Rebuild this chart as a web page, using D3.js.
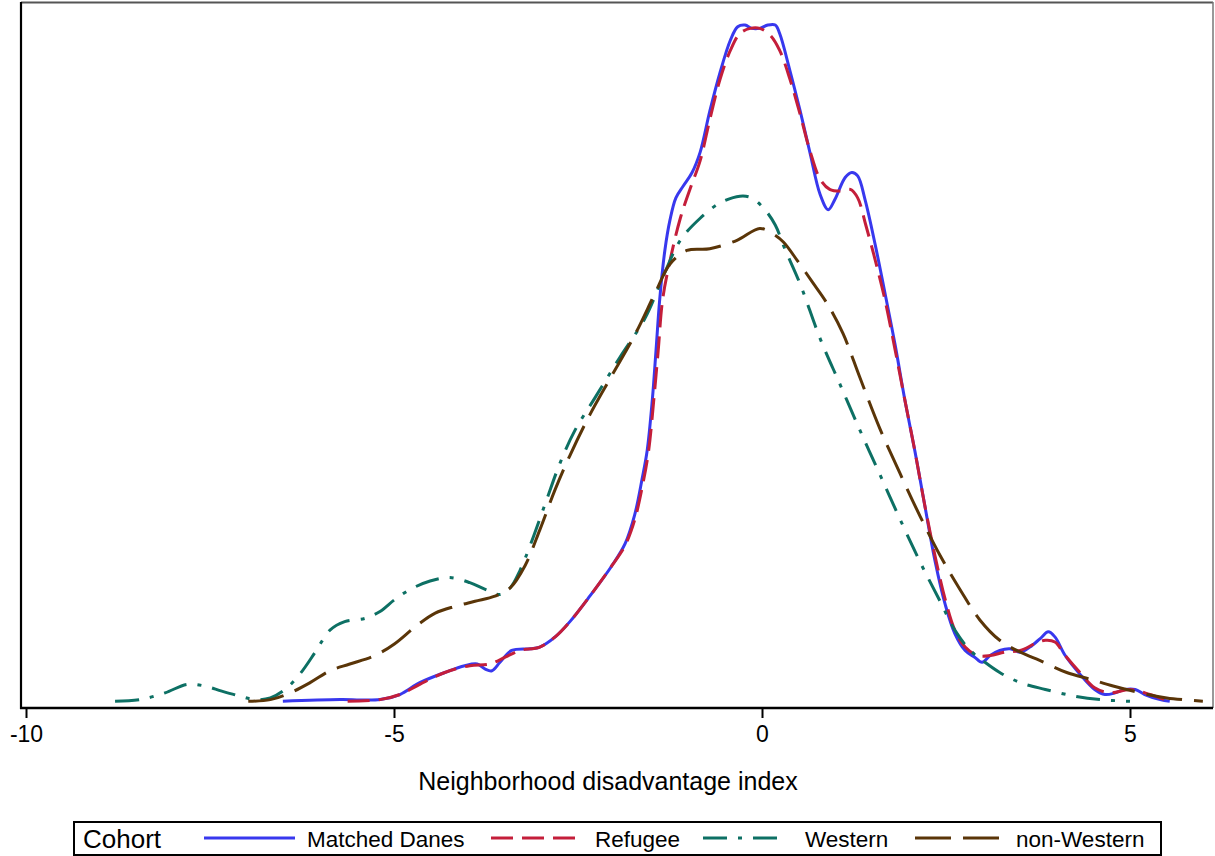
<!DOCTYPE html>
<html><head><meta charset="utf-8">
<script src="https://cdn.jsdelivr.net/npm/d3@7"></script>
<style>body{margin:0;background:#fff}svg{display:block;font-family:Arial,"Liberation Sans",sans-serif}</style>
</head><body><svg id="c" width="1215" height="856"></svg>
<script>
// Kernel density estimates: [index value, density]
const matchedDanes = [[-6.51,0.001],[-5.73,0.002],[-5.19,0.002],[-4.92,0.005],[-4.65,0.012],[-4.31,0.018],[-4.04,0.022],[-3.87,0.023],[-3.76,0.020],[-3.67,0.019],[-3.56,0.024],[-3.40,0.031],[-3.15,0.032],[-3.02,0.033],[-2.81,0.039],[-2.61,0.048],[-2.34,0.063],[-2.04,0.081],[-1.86,0.094],[-1.73,0.111],[-1.63,0.132],[-1.56,0.149],[-1.49,0.179],[-1.44,0.208],[-1.39,0.238],[-1.32,0.267],[-1.25,0.285],[-1.17,0.298],[-1.07,0.305],[-0.95,0.313],[-0.84,0.325],[-0.71,0.349],[-0.57,0.372],[-0.43,0.391],[-0.33,0.399],[-0.23,0.400],[-0.14,0.398],[-0.03,0.398],[0.08,0.400],[0.18,0.400],[0.24,0.395],[0.38,0.373],[0.52,0.349],[0.65,0.325],[0.79,0.300],[0.90,0.291],[0.99,0.297],[1.13,0.310],[1.22,0.313],[1.30,0.311],[1.40,0.297],[1.54,0.270],[1.67,0.242],[1.81,0.211],[1.94,0.179],[2.08,0.148],[2.21,0.117],[2.35,0.084],[2.49,0.058],[2.62,0.041],[2.76,0.031],[2.89,0.027],[2.99,0.024],[3.10,0.028],[3.23,0.031],[3.37,0.032],[3.51,0.030],[3.64,0.033],[3.78,0.038],[3.89,0.042],[3.98,0.039],[4.12,0.028],[4.32,0.017],[4.52,0.008],[4.66,0.005],[4.80,0.006],[4.93,0.008],[5.07,0.008],[5.20,0.005],[5.41,0.002],[5.54,0.001]];
const refugee = [[-5.63,0.001],[-5.19,0.002],[-4.92,0.005],[-4.65,0.011],[-4.31,0.018],[-3.97,0.022],[-3.70,0.023],[-3.49,0.027],[-3.29,0.031],[-3.02,0.033],[-2.81,0.039],[-2.61,0.048],[-2.34,0.063],[-2.04,0.081],[-1.86,0.093],[-1.73,0.108],[-1.62,0.129],[-1.54,0.149],[-1.47,0.179],[-1.41,0.208],[-1.35,0.238],[-1.25,0.261],[-1.11,0.286],[-0.98,0.303],[-0.84,0.320],[-0.71,0.344],[-0.57,0.368],[-0.43,0.385],[-0.30,0.395],[-0.16,0.398],[-0.03,0.398],[0.11,0.394],[0.24,0.385],[0.38,0.368],[0.52,0.347],[0.65,0.326],[0.79,0.309],[0.92,0.303],[1.06,0.302],[1.20,0.303],[1.30,0.298],[1.41,0.282],[1.54,0.261],[1.67,0.238],[1.81,0.208],[1.94,0.179],[2.08,0.148],[2.21,0.117],[2.35,0.087],[2.49,0.061],[2.62,0.043],[2.76,0.033],[2.93,0.028],[3.10,0.028],[3.30,0.030],[3.51,0.031],[3.71,0.035],[3.85,0.037],[3.98,0.036],[4.12,0.028],[4.32,0.018],[4.52,0.009],[4.73,0.006],[5.00,0.008],[5.27,0.005],[5.54,0.001]];
const western = [[-8.79,0.001],[-8.45,0.002],[-8.11,0.006],[-7.81,0.011],[-7.57,0.010],[-7.34,0.007],[-7.09,0.004],[-6.89,0.002],[-6.68,0.003],[-6.48,0.008],[-6.28,0.017],[-6.07,0.030],[-5.87,0.043],[-5.67,0.048],[-5.39,0.050],[-5.19,0.054],[-4.99,0.061],[-4.78,0.067],[-4.51,0.072],[-4.24,0.074],[-3.97,0.071],[-3.76,0.067],[-3.56,0.064],[-3.42,0.068],[-3.29,0.078],[-3.15,0.093],[-2.95,0.117],[-2.74,0.142],[-2.54,0.161],[-2.27,0.180],[-1.93,0.204],[-1.59,0.227],[-1.32,0.254],[-1.11,0.273],[-0.84,0.286],[-0.57,0.295],[-0.30,0.299],[-0.14,0.298],[0.04,0.291],[0.18,0.282],[0.31,0.268],[0.52,0.247],[0.79,0.215],[1.06,0.188],[1.33,0.161],[1.60,0.135],[1.88,0.108],[2.15,0.083],[2.42,0.060],[2.62,0.043],[2.83,0.031],[3.03,0.024],[3.23,0.018],[3.51,0.012],[3.85,0.008],[4.25,0.004],[4.59,0.002],[5.00,0.001]];
const nonWestern = [[-6.98,0.001],[-6.68,0.002],[-6.41,0.006],[-6.14,0.012],[-5.87,0.019],[-5.60,0.023],[-5.26,0.028],[-4.99,0.035],[-4.71,0.045],[-4.44,0.053],[-4.17,0.057],[-3.90,0.060],[-3.63,0.063],[-3.42,0.068],[-3.22,0.081],[-3.02,0.102],[-2.81,0.126],[-2.61,0.146],[-2.34,0.170],[-2.07,0.191],[-1.73,0.217],[-1.45,0.242],[-1.25,0.259],[-1.02,0.267],[-0.71,0.268],[-0.34,0.273],[-0.03,0.280],[0.14,0.277],[0.29,0.272],[0.48,0.261],[0.69,0.248],[0.88,0.236],[1.10,0.218],[1.33,0.192],[1.60,0.162],[1.88,0.135],[2.15,0.110],[2.42,0.087],[2.69,0.067],[2.96,0.049],[3.23,0.037],[3.51,0.030],[3.78,0.025],[4.14,0.018],[4.46,0.014],[4.77,0.010],[5.14,0.006],[5.50,0.003],[5.99,0.001]];

const seriesNames = ["Matched Danes","Refugee","Western","non-Western"];
const xTicks = [-10,-5,0,5];
const xTitle = "Neighborhood disadvantage index";
const legendTitle = "Cohort";

const seriesData = [matchedDanes, refugee, western, nonWestern];
const styles = [
  {color:"#3838ee", dash:null, w:3},
  {color:"#c41e3a", dash:"22,9", w:3},
  {color:"#0d7064", dash:"24,11,4,11", w:3},
  {color:"#5a3508", dash:"36,12", w:3}
];

const svg = d3.select("#c");
const L=21, R=1213, T=2, B=708;
const x = d3.scaleLinear().domain([-10, 5]).range([26, 1130]);
const y = d3.scaleLinear().domain([0, 0.4]).range([703, 25]);

// frame
svg.append("line").attr("x1",L).attr("x2",R).attr("y1",T+0.5).attr("y2",T+0.5).attr("stroke","#555").attr("stroke-width",2);
svg.append("line").attr("x1",R).attr("x2",R).attr("y1",T).attr("y2",B).attr("stroke","#777").attr("stroke-width",1.5);

const line = d3.line().x(d=>x(d[0])).y(d=>y(d[1])).curve(d3.curveCatmullRom.alpha(0.5));
seriesData.forEach((s,i)=>{
  svg.append("path").datum(s).attr("d", line)
    .attr("fill","none").attr("stroke",styles[i].color).attr("stroke-width",styles[i].w)
    .attr("stroke-dasharray",styles[i].dash).attr("stroke-linejoin","round");
});

// axes
svg.append("line").attr("x1",L).attr("x2",L).attr("y1",T).attr("y2",B+1).attr("stroke","#000").attr("stroke-width",2.2);
const ax = svg.append("g").attr("transform",`translate(0,${B})`)
  .call(d3.axisBottom(x).tickValues(xTicks).tickFormat(d=>String(d)).tickSize(10).tickSizeOuter(0).tickPadding(8));
ax.select(".domain").remove();
ax.insert("line",":first-child").attr("x1",L-1).attr("x2",R).attr("stroke","#000").attr("stroke-width",2.4);
ax.selectAll(".tick line").attr("stroke","#000").attr("stroke-width",2);
ax.selectAll(".tick text").attr("font-size",23).attr("fill","#000").attr("font-family","Arial, 'Liberation Sans', sans-serif");

svg.append("text").attr("x",608).attr("y",790).attr("text-anchor","middle").attr("font-size",25).attr("fill","#000").text(xTitle);

// legend
const lg = svg.append("g");
lg.append("rect").attr("x",74).attr("y",822).attr("width",1087).attr("height",33).attr("fill","#fff").attr("stroke","#000").attr("stroke-width",2);
lg.append("text").attr("x",83).attr("y",848).attr("font-size",26).attr("fill","#000").text(legendTitle);
const items = [
  {x1:204,x2:295,tx:307},
  {x1:491,x2:580,tx:595},
  {x1:703,x2:782,tx:805},
  {x1:915,x2:1003,tx:1016}
];
items.forEach((it,i)=>{
  lg.append("line").attr("x1",it.x1).attr("x2",it.x2).attr("y1",838).attr("y2",838)
    .attr("stroke",styles[i].color).attr("stroke-width",styles[i].w).attr("stroke-dasharray",styles[i].dash);
  lg.append("text").attr("x",it.tx).attr("y",847).attr("font-size",22.5).attr("fill","#000").text(seriesNames[i]);
});
</script></body></html>
